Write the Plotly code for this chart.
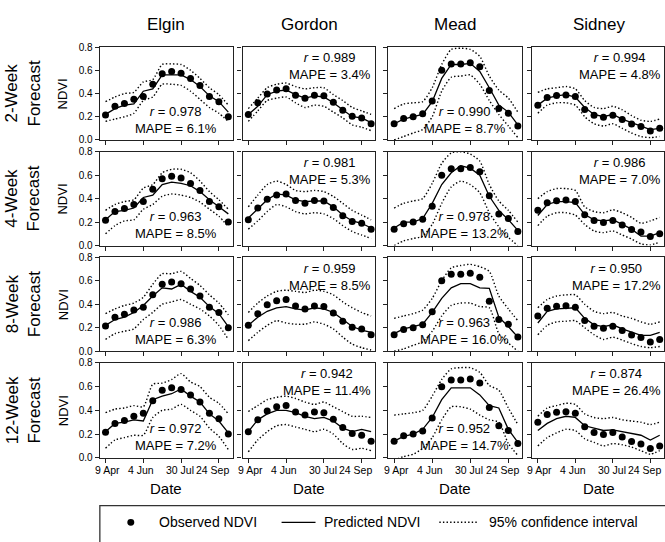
import plotly.graph_objects as go

# ---------------- data ----------------
sites = ["Elgin", "Gordon", "Mead", "Sidney"]
horizons = ["2-Week", "4-Week", "8-Week", "12-Week"]
dates = ["2001-04-09", "2001-04-23", "2001-05-07", "2001-05-21", "2001-06-04",
         "2001-06-18", "2001-07-02", "2001-07-16", "2001-07-30", "2001-08-13",
         "2001-08-27", "2001-09-10", "2001-09-24", "2001-10-08"]
tick_dates = ["2001-04-09", "2001-06-04", "2001-07-30", "2001-09-24"]
tick_labels = ["9 Apr", "4 Jun", "30 Jul", "24 Sep"]
y_ticks = [0.0, 0.2, 0.4, 0.6, 0.8]
y_tick_labels = ["0.0", "0.2", "0.4", "0.6", "0.8"]

# observed NDVI (same for every forecast horizon)
elgin_obs = [0.215, 0.29, 0.315, 0.35, 0.375, 0.48, 0.57, 0.59, 0.575, 0.53, 0.47, 0.375, 0.33, 0.20]
gordon_obs = [0.22, 0.32, 0.395, 0.43, 0.44, 0.385, 0.36, 0.385, 0.38, 0.325, 0.255, 0.205, 0.19, 0.14]
mead_obs = [0.14, 0.185, 0.20, 0.225, 0.335, 0.60, 0.655, 0.655, 0.665, 0.63, 0.425, 0.27, 0.23, 0.12]
sidney_obs = [0.30, 0.365, 0.383, 0.388, 0.375, 0.262, 0.213, 0.196, 0.213, 0.176, 0.138, 0.116, 0.078, 0.10]

# 2-week
elgin_2wk_pred = [0.22, 0.27, 0.30, 0.31, 0.42, 0.44, 0.56, 0.56, 0.56, 0.52, 0.46, 0.38, 0.33, 0.24]
elgin_2wk_upper = [0.33, 0.37, 0.40, 0.41, 0.50, 0.52, 0.65, 0.655, 0.65, 0.60, 0.53, 0.45, 0.39, 0.30]
elgin_2wk_lower = [0.16, 0.18, 0.20, 0.23, 0.34, 0.37, 0.48, 0.48, 0.47, 0.42, 0.35, 0.28, 0.23, 0.16]
gordon_2wk_pred = [0.22, 0.29, 0.39, 0.42, 0.43, 0.39, 0.36, 0.38, 0.37, 0.32, 0.26, 0.20, 0.19, 0.15]
gordon_2wk_upper = [0.27, 0.36, 0.45, 0.48, 0.49, 0.46, 0.44, 0.45, 0.45, 0.39, 0.34, 0.28, 0.25, 0.22]
gordon_2wk_lower = [0.16, 0.25, 0.34, 0.36, 0.37, 0.32, 0.28, 0.30, 0.29, 0.24, 0.19, 0.13, 0.11, 0.08]
mead_2wk_pred = [0.14, 0.18, 0.20, 0.22, 0.33, 0.53, 0.65, 0.65, 0.66, 0.59, 0.45, 0.30, 0.24, 0.13]
mead_2wk_upper = [0.27, 0.31, 0.32, 0.33, 0.45, 0.65, 0.78, 0.79, 0.78, 0.72, 0.55, 0.43, 0.36, 0.24]
mead_2wk_lower = [0.0, 0.03, 0.06, 0.09, 0.20, 0.42, 0.54, 0.55, 0.56, 0.48, 0.34, 0.22, 0.12, 0.02]
sidney_2wk_pred = [0.30, 0.36, 0.38, 0.39, 0.37, 0.28, 0.22, 0.20, 0.22, 0.18, 0.15, 0.12, 0.09, 0.10]
sidney_2wk_upper = [0.41, 0.44, 0.45, 0.46, 0.44, 0.34, 0.28, 0.27, 0.29, 0.26, 0.21, 0.17, 0.16, 0.18]
sidney_2wk_lower = [0.23, 0.30, 0.32, 0.32, 0.30, 0.20, 0.14, 0.12, 0.14, 0.10, 0.06, 0.03, 0.02, 0.03]

# 4-week
elgin_4wk_pred = [0.22, 0.29, 0.30, 0.32, 0.41, 0.43, 0.52, 0.54, 0.53, 0.51, 0.46, 0.39, 0.33, 0.27]
elgin_4wk_upper = [0.30, 0.35, 0.375, 0.39, 0.49, 0.52, 0.62, 0.65, 0.65, 0.62, 0.55, 0.46, 0.39, 0.31]
elgin_4wk_lower = [0.10, 0.17, 0.21, 0.22, 0.31, 0.35, 0.42, 0.44, 0.43, 0.41, 0.37, 0.31, 0.25, 0.16]
gordon_4wk_pred = [0.235, 0.31, 0.39, 0.44, 0.43, 0.39, 0.375, 0.38, 0.38, 0.33, 0.26, 0.21, 0.19, 0.15]
gordon_4wk_upper = [0.33, 0.43, 0.52, 0.55, 0.52, 0.47, 0.46, 0.47, 0.46, 0.42, 0.36, 0.30, 0.26, 0.22]
gordon_4wk_lower = [0.14, 0.21, 0.29, 0.35, 0.33, 0.29, 0.27, 0.28, 0.27, 0.23, 0.17, 0.12, 0.09, 0.06]
mead_4wk_pred = [0.15, 0.20, 0.20, 0.23, 0.36, 0.52, 0.62, 0.68, 0.66, 0.60, 0.42, 0.30, 0.22, 0.13]
mead_4wk_upper = [0.32, 0.36, 0.38, 0.40, 0.53, 0.70, 0.79, 0.80, 0.78, 0.72, 0.52, 0.38, 0.30, 0.20]
mead_4wk_lower = [0.0, 0.04, 0.06, 0.08, 0.18, 0.36, 0.50, 0.55, 0.52, 0.45, 0.28, 0.16, 0.07, 0.0]
sidney_4wk_pred = [0.256, 0.35, 0.375, 0.375, 0.367, 0.264, 0.22, 0.21, 0.22, 0.18, 0.14, 0.08, 0.08, 0.11]
sidney_4wk_upper = [0.40, 0.46, 0.486, 0.486, 0.47, 0.33, 0.29, 0.28, 0.305, 0.28, 0.24, 0.19, 0.21, 0.24]
sidney_4wk_lower = [0.17, 0.25, 0.28, 0.28, 0.26, 0.18, 0.125, 0.11, 0.125, 0.09, 0.056, 0.014, 0.005, 0.03]

# 8-week
elgin_8wk_pred = [0.22, 0.27, 0.29, 0.33, 0.39, 0.47, 0.54, 0.53, 0.57, 0.51, 0.46, 0.38, 0.32, 0.21]
elgin_8wk_upper = [0.32, 0.36, 0.39, 0.41, 0.46, 0.57, 0.66, 0.66, 0.68, 0.62, 0.56, 0.48, 0.41, 0.31]
elgin_8wk_lower = [0.10, 0.15, 0.17, 0.19, 0.27, 0.33, 0.40, 0.42, 0.44, 0.40, 0.36, 0.30, 0.22, 0.10]
gordon_8wk_pred = [0.22, 0.29, 0.34, 0.37, 0.38, 0.36, 0.35, 0.37, 0.36, 0.33, 0.27, 0.21, 0.18, 0.16]
gordon_8wk_upper = [0.33, 0.41, 0.47, 0.51, 0.52, 0.51, 0.50, 0.52, 0.51, 0.48, 0.42, 0.37, 0.33, 0.30]
gordon_8wk_lower = [0.09, 0.16, 0.22, 0.26, 0.24, 0.23, 0.23, 0.25, 0.23, 0.19, 0.12, 0.06, 0.03, 0.01]
mead_8wk_pred = [0.15, 0.19, 0.21, 0.23, 0.33, 0.45, 0.54, 0.575, 0.575, 0.54, 0.535, 0.29, 0.21, 0.12]
mead_8wk_upper = [0.28, 0.30, 0.32, 0.35, 0.45, 0.60, 0.71, 0.73, 0.74, 0.72, 0.68, 0.47, 0.36, 0.26]
mead_8wk_lower = [0.0, 0.02, 0.05, 0.08, 0.17, 0.30, 0.39, 0.41, 0.41, 0.38, 0.37, 0.15, 0.07, 0.0]
sidney_8wk_pred = [0.24, 0.34, 0.36, 0.365, 0.37, 0.28, 0.225, 0.21, 0.225, 0.19, 0.16, 0.135, 0.135, 0.16]
sidney_8wk_upper = [0.37, 0.44, 0.47, 0.48, 0.48, 0.40, 0.34, 0.32, 0.33, 0.30, 0.28, 0.25, 0.23, 0.25]
sidney_8wk_lower = [0.14, 0.22, 0.25, 0.255, 0.26, 0.20, 0.14, 0.10, 0.12, 0.095, 0.065, 0.04, 0.03, 0.04]

# 12-week
elgin_12wk_pred = [0.22, 0.29, 0.30, 0.32, 0.31, 0.49, 0.52, 0.54, 0.58, 0.52, 0.47, 0.37, 0.31, 0.21]
elgin_12wk_upper = [0.38, 0.41, 0.42, 0.44, 0.43, 0.62, 0.63, 0.66, 0.71, 0.64, 0.60, 0.51, 0.46, 0.37]
elgin_12wk_lower = [0.08, 0.15, 0.17, 0.19, 0.19, 0.34, 0.40, 0.41, 0.45, 0.40, 0.35, 0.25, 0.18, 0.07]
gordon_12wk_pred = [0.22, 0.32, 0.37, 0.40, 0.40, 0.38, 0.35, 0.33, 0.34, 0.31, 0.25, 0.22, 0.24, 0.22]
gordon_12wk_upper = [0.39, 0.44, 0.49, 0.51, 0.52, 0.50, 0.47, 0.45, 0.47, 0.43, 0.39, 0.35, 0.35, 0.34]
gordon_12wk_lower = [0.05, 0.15, 0.22, 0.27, 0.28, 0.26, 0.24, 0.22, 0.24, 0.20, 0.12, 0.07, 0.08, 0.06]
mead_12wk_pred = [0.14, 0.18, 0.20, 0.24, 0.34, 0.49, 0.59, 0.59, 0.59, 0.53, 0.44, 0.42, 0.24, 0.13]
mead_12wk_upper = [0.36, 0.37, 0.38, 0.40, 0.52, 0.66, 0.75, 0.76, 0.76, 0.72, 0.61, 0.57, 0.42, 0.28]
mead_12wk_lower = [-0.02, 0.01, 0.03, 0.08, 0.17, 0.32, 0.43, 0.43, 0.41, 0.36, 0.32, 0.30, 0.12, 0.02]
sidney_12wk_pred = [0.23, 0.29, 0.33, 0.35, 0.34, 0.27, 0.25, 0.23, 0.235, 0.22, 0.21, 0.19, 0.15, 0.19]
sidney_12wk_upper = [0.35, 0.42, 0.44, 0.46, 0.45, 0.37, 0.34, 0.33, 0.34, 0.32, 0.31, 0.30, 0.28, 0.30]
sidney_12wk_lower = [0.10, 0.17, 0.21, 0.24, 0.23, 0.16, 0.13, 0.10, 0.12, 0.11, 0.09, 0.06, 0.03, 0.06]

r_2wk = [0.978, 0.989, 0.990, 0.994]
mape_2wk = [6.1, 3.4, 8.7, 4.8]
r_4wk = [0.963, 0.981, 0.978, 0.986]
mape_4wk = [8.5, 5.3, 13.2, 7.0]
r_8wk = [0.986, 0.959, 0.963, 0.950]
mape_8wk = [6.3, 8.5, 16.0, 17.2]
r_12wk = [0.972, 0.942, 0.952, 0.874]
mape_12wk = [7.2, 11.4, 14.7, 26.4]

# ---------------- assemble ----------------
obs_by_site = [elgin_obs, gordon_obs, mead_obs, sidney_obs]
panels = [
    [(elgin_2wk_pred, elgin_2wk_upper, elgin_2wk_lower), (gordon_2wk_pred, gordon_2wk_upper, gordon_2wk_lower),
     (mead_2wk_pred, mead_2wk_upper, mead_2wk_lower), (sidney_2wk_pred, sidney_2wk_upper, sidney_2wk_lower)],
    [(elgin_4wk_pred, elgin_4wk_upper, elgin_4wk_lower), (gordon_4wk_pred, gordon_4wk_upper, gordon_4wk_lower),
     (mead_4wk_pred, mead_4wk_upper, mead_4wk_lower), (sidney_4wk_pred, sidney_4wk_upper, sidney_4wk_lower)],
    [(elgin_8wk_pred, elgin_8wk_upper, elgin_8wk_lower), (gordon_8wk_pred, gordon_8wk_upper, gordon_8wk_lower),
     (mead_8wk_pred, mead_8wk_upper, mead_8wk_lower), (sidney_8wk_pred, sidney_8wk_upper, sidney_8wk_lower)],
    [(elgin_12wk_pred, elgin_12wk_upper, elgin_12wk_lower), (gordon_12wk_pred, gordon_12wk_upper, gordon_12wk_lower),
     (mead_12wk_pred, mead_12wk_upper, mead_12wk_lower), (sidney_12wk_pred, sidney_12wk_upper, sidney_12wk_lower)],
]
r_rows = [r_2wk, r_4wk, r_8wk, r_12wk]
mape_rows = [mape_2wk, mape_4wk, mape_8wk, mape_12wk]

W, H = 665, 542
FONT = "Arial, 'Liberation Sans', Helvetica, sans-serif"
col_px = [(100, 233), (243, 376), (389, 523), (533, 666)]
row_px = [(42, 137), (149, 245), (257, 353), (365, 462)]
x_range = ["2001-03-31 14:00", "2001-10-14 10:00"]
DOT = "1.4px,2.2px"
label_shift = [2, -2, -1, -6]

fig = go.Figure()
layout = dict(
    width=W, height=H, margin=dict(l=0, r=0, t=0, b=0),
    paper_bgcolor="white", plot_bgcolor="white", showlegend=False,
    font=dict(family=FONT, color="black"),
)
annotations = []
shapes = []

for r in range(4):
    for c in range(4):
        i = r * 4 + c + 1
        xa = "x" if i == 1 else f"x{i}"
        ya = "y" if i == 1 else f"y{i}"
        pred, upper, lower = panels[r][c]
        obs = obs_by_site[c]
        for ci in (upper, lower):
            fig.add_trace(go.Scatter(x=dates, y=ci, mode="lines", xaxis=xa, yaxis=ya,
                                     line=dict(color="black", width=1.4, dash=DOT,
                                               shape="spline", smoothing=0.6),
                                     hoverinfo="skip"))
        fig.add_trace(go.Scatter(x=dates, y=pred, mode="lines", xaxis=xa, yaxis=ya,
                                 line=dict(color="black", width=1.3)))
        fig.add_trace(go.Scatter(x=dates, y=obs, mode="markers", xaxis=xa, yaxis=ya,
                                 marker=dict(color="black", size=7)))
        x0, x1 = col_px[c]
        yt, yb = row_px[r]
        layout["xaxis" if i == 1 else f"xaxis{i}"] = dict(
            domain=[x0 / W, min(x1 / W, 1.0)], anchor=ya, type="date", range=x_range,
            tickvals=tick_dates, ticktext=tick_labels, showticklabels=False,
            ticks="outside", ticklen=4, tickwidth=1, tickcolor="#222",
            showline=True, mirror=True, linecolor="#222", linewidth=1.3,
            showgrid=False, zeroline=False,
        )
        layout["yaxis" if i == 1 else f"yaxis{i}"] = dict(
            domain=[1 - yb / H, 1 - yt / H], anchor=xa, range=[0, 0.8],
            tickvals=y_ticks, ticktext=y_tick_labels, showticklabels=(c == 0),
            ticks="outside", ticklen=4, tickwidth=1, tickcolor="#222",
            showline=True, mirror=True, linecolor="#222", linewidth=1.3,
            showgrid=False, zeroline=False, tickfont=dict(size=10, family=FONT, color="black"),
        )
        # date tick labels under the bottom row, placed on the axis' own date scale
        if r == 3:
            for td, tl, sh in zip(tick_dates, tick_labels, label_shift):
                annotations.append(dict(text=tl, xref=xa, yref="paper", x=td, y=1 - 475 / H,
                                        xanchor="center", yanchor="middle", showarrow=False,
                                        xshift=sh,
                                        font=dict(size=10.5, family=FONT, color="black")))
        txt = f"<i>r</i> = {r_rows[r][c]:.3f}<br>MAPE = {mape_rows[r][c]:.1f}%"
        if c in (0, 2):
            annotations.append(dict(text=txt, xref=f"{xa} domain", yref=f"{ya} domain",
                                    x=0.57, y=0.025, xanchor="center", yanchor="bottom",
                                    showarrow=False, align="center",
                                    font=dict(size=13, family=FONT, color="black")))
        else:
            annotations.append(dict(text=txt, xref="paper", yref=f"{ya} domain",
                                    x=(x0 + 0.985 * 133) / W, y=0.985, xanchor="right", yanchor="top",
                                    showarrow=False, align="center",
                                    font=dict(size=13, family=FONT, color="black")))

# column titles and x-axis titles
for c, name in enumerate(sites):
    cx = (col_px[c][0] + col_px[c][1]) / 2 / W
    annotations.append(dict(text=name, xref="paper", yref="paper", x=cx, y=1 - 19 / H,
                            xanchor="center", yanchor="middle", showarrow=False,
                            font=dict(size=17, family=FONT, color="black")))
    annotations.append(dict(text="Date", xref="paper", yref="paper", x=cx, y=1 - 493 / H,
                            xanchor="center", yanchor="middle", showarrow=False,
                            font=dict(size=15, family=FONT, color="black")))

# row labels and NDVI labels
for r, hz in enumerate(horizons):
    cy = 1 - (row_px[r][0] + row_px[r][1]) / 2 / H
    annotations.append(dict(text=f"{hz}<br>Forecast", xref="paper", yref="paper",
                            x=23 / W, y=cy, xanchor="center", yanchor="middle",
                            textangle=-90, showarrow=False,
                            font=dict(size=17, family=FONT, color="black")))
    annotations.append(dict(text="NDVI", xref="paper", yref="paper",
                            x=63 / W, y=cy, xanchor="center", yanchor="middle",
                            textangle=-90, showarrow=False,
                            font=dict(size=13, family=FONT, color="black")))

# legend box drawn manually
ly = 1 - 528 / H
shapes.append(dict(type="rect", xref="paper", yref="paper", x0=100 / W, x1=1.05,
                   y0=1 - 560 / H, y1=1 - 511 / H, line=dict(color="#333", width=1.3)))
shapes.append(dict(type="circle", xref="paper", yref="paper",
                   x0=127.5 / W, x1=134.5 / W, y0=ly - 3.5 / H, y1=ly + 3.5 / H,
                   fillcolor="black", line=dict(color="black", width=0)))
shapes.append(dict(type="line", xref="paper", yref="paper", x0=282 / W, x1=316 / W,
                   y0=ly, y1=ly, line=dict(color="black", width=1.3)))
shapes.append(dict(type="line", xref="paper", yref="paper", x0=440 / W, x1=479 / W,
                   y0=ly, y1=ly, line=dict(color="black", width=1.4, dash=DOT)))
for lx, lt in [(157, "Observed NDVI"), (322, "Predicted NDVI"), (488, "95% confidence interval")]:
    annotations.append(dict(text=lt, xref="paper", yref="paper", x=lx / W, y=ly,
                            xanchor="left", yanchor="middle", showarrow=False,
                            font=dict(size=14, family=FONT, color="black")))

layout["annotations"] = annotations
layout["shapes"] = shapes
fig.update_layout(**layout)
fig.write_html("out.html", config={"displayModeBar": False},
               post_script="document.body.style.margin='0';")
